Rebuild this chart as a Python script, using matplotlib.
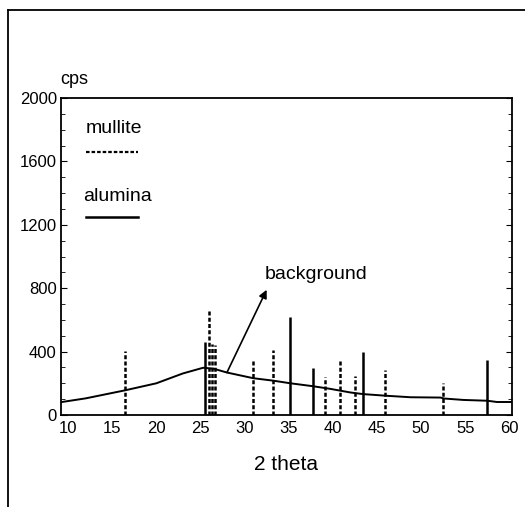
import matplotlib
matplotlib.use("Agg")
import matplotlib.pyplot as plt
from matplotlib.lines import Line2D
from matplotlib.ticker import MultipleLocator

plt.rcParams['font.family'] = ['Liberation Sans Narrow', 'Liberation Sans', 'DejaVu Sans']

# Data
mullite_pos = [16.4, 26.0, 26.3, 26.6, 30.9, 33.2, 39.1, 40.8, 42.5, 45.9, 52.5]
mullite_int = [402, 665, 450, 440, 344, 412, 238, 344, 244, 287, 202]
alumina_pos = [25.5, 35.2, 37.7, 43.4, 57.5]
alumina_int = [460, 619, 294, 396, 344]
bg_x = [9.3, 12, 16.4, 20, 23, 25.3, 26.5, 28, 31, 33.2, 35.2, 37.7, 39.7, 42,
        43.4, 45.9, 48.8, 52.2, 52.6, 54.8, 57.5, 58.6, 60.2]
bg_y = [82, 105, 155, 200, 262, 298, 292, 268, 232, 217, 200, 182, 165, 142,
        132, 122, 112, 110, 104, 95, 90, 82, 82]
x_ticks = [10, 15, 20, 25, 30, 35, 40, 45, 50, 55, 60]
y_ticks = [0, 400, 800, 1200, 1600, 2000]

fig = plt.figure(figsize=(5.25, 5.07), dpi=100)
ax = fig.add_axes([61/525, 1-415/507, (512-61)/525, (415-98)/507])

ax.vlines(mullite_pos, 0, mullite_int, colors='black', linewidth=1.8,
          linestyles=[(0, (1.6, 0.9))])
ax.vlines(alumina_pos, 0, alumina_int, colors='black', linewidth=1.8)
ax.plot(bg_x, bg_y, color='black', linewidth=1.4)

ax.set_xlim(9.2, 60.3)
ax.set_ylim(0, 2000)
ax.set_xticks(x_ticks)
ax.set_yticks(y_ticks)
ax.yaxis.set_minor_locator(MultipleLocator(100))
ax.tick_params(axis='x', length=0, labelsize=12, pad=4)
ax.tick_params(axis='y', which='both', direction='in', left=True, right=True,
               labelsize=12, pad=3)
ax.tick_params(axis='y', which='major', length=4)
ax.tick_params(axis='y', which='minor', length=3)
for s in ax.spines.values():
    s.set_linewidth(1.3)

ax.set_xlabel('2 theta', fontsize=15, labelpad=14)
ax.text(-0.002, 1.03, 'cps', transform=ax.transAxes, fontsize=13,
        ha='left', va='bottom')

# legend-like annotations
ax.text(0.055, 0.905, 'mullite', transform=ax.transAxes, fontsize=14,
        ha='left', va='center')
ax.add_line(Line2D([0.055, 0.17], [0.83, 0.83], transform=ax.transAxes,
                   color='black', linewidth=1.6, linestyle=(0, (1.6, 0.9))))
ax.text(0.05, 0.69, 'alumina', transform=ax.transAxes, fontsize=14,
        ha='left', va='center')
ax.add_line(Line2D([0.055, 0.17], [0.625, 0.625], transform=ax.transAxes,
                   color='black', linewidth=1.8))

ax.annotate('', xy=(32.5, 790), xytext=(28.0, 268), textcoords='data',
            arrowprops=dict(arrowstyle='-|>', color='black', lw=1.2,
                            mutation_scale=12, shrinkA=0, shrinkB=0))
ax.text(32.3, 830, 'background', fontsize=14, ha='left', va='bottom')

# outer frame (top and left)
fig.add_artist(Line2D([8/525, 1.0], [1-10/507, 1-10/507], color='black', linewidth=1.3))
fig.add_artist(Line2D([8/525, 8/525], [0, 1-10/507], color='black', linewidth=1.3))

fig.savefig('out.png', dpi=100)
